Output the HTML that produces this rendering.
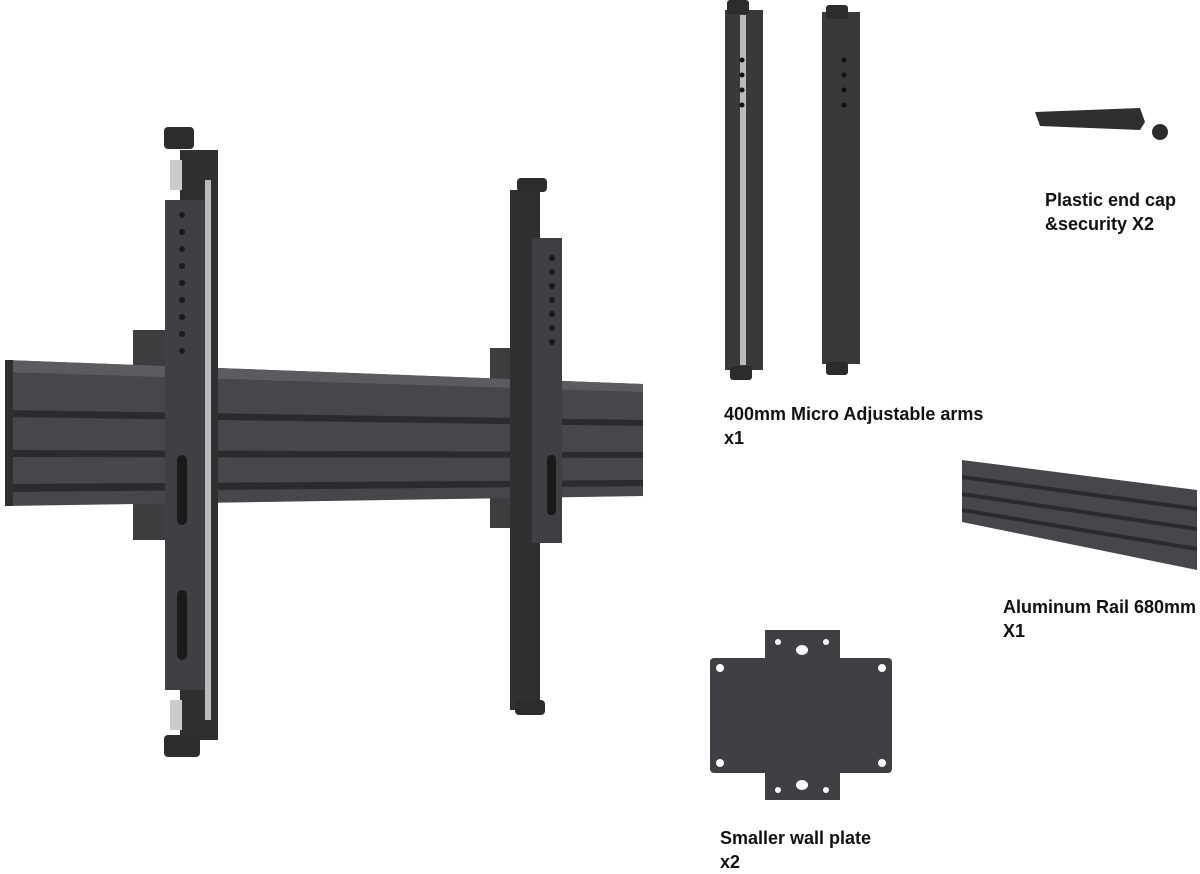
<!DOCTYPE html>
<html><head><meta charset="utf-8"><style>
html,body{margin:0;padding:0;background:#fff;}
body{width:1200px;height:870px;position:relative;overflow:hidden;font-family:"Liberation Sans",sans-serif;}
.t{position:absolute;font-weight:bold;font-size:18px;color:#111;line-height:24px;white-space:nowrap;}
</style></head><body>
<svg width="1200" height="870" style="position:absolute;left:0;top:0">
<!-- wall plates behind main assembly -->
<rect x="133" y="330" width="34" height="210" fill="#3c3d3f"/>
<rect x="490" y="348" width="26" height="180" fill="#3c3d3f"/>
<!-- main rail -->
<polygon points="5,360 643,384 643,496 5,506" fill="#45474a"/>
<polygon points="5,360 643,384 643,392 5,372" fill="#5a5c60"/>
<polygon points="5,410 643,420 643,426 5,417" fill="#2a2b2d"/>
<polygon points="5,450 643,452 643,458 5,457" fill="#2a2b2d"/>
<polygon points="5,484 643,480 643,486 5,492" fill="#2a2b2d"/>
<rect x="5" y="360" width="8" height="146" fill="#2e2f31"/>
<!-- left arm -->
<rect x="180" y="150" width="38" height="590" fill="#2f3032"/>
<rect x="165" y="200" width="42" height="490" fill="#3e4043"/>
<rect x="170" y="160" width="12" height="30" fill="#ccc"/>
<rect x="170" y="700" width="12" height="30" fill="#ccc"/>
<rect x="205" y="180" width="6" height="540" fill="#bbb"/>
<rect x="164" y="127" width="30" height="22" rx="4" fill="#2b2c2e"/>
<rect x="164" y="735" width="36" height="22" rx="4" fill="#2b2c2e"/>
<g fill="#1a1a1a"><circle cx="182" cy="215" r="3"/><circle cx="182" cy="232" r="3"/><circle cx="182" cy="249" r="3"/><circle cx="182" cy="266" r="3"/><circle cx="182" cy="283" r="3"/><circle cx="182" cy="300" r="3"/><circle cx="182" cy="317" r="3"/><circle cx="182" cy="334" r="3"/><circle cx="182" cy="351" r="3"/>
<rect x="177" y="455" width="10" height="70" rx="5"/><rect x="177" y="590" width="10" height="70" rx="5"/></g>
<!-- right arm -->
<rect x="510" y="190" width="30" height="520" fill="#2f3032"/>
<rect x="532" y="238" width="30" height="305" fill="#3e4043"/>
<rect x="517" y="178" width="30" height="14" rx="4" fill="#2b2c2e"/>
<rect x="515" y="700" width="30" height="15" rx="4" fill="#2b2c2e"/>
<g fill="#1a1a1a"><circle cx="552" cy="258" r="3"/><circle cx="552" cy="272" r="3"/><circle cx="552" cy="286" r="3"/><circle cx="552" cy="300" r="3"/><circle cx="552" cy="314" r="3"/><circle cx="552" cy="328" r="3"/><circle cx="552" cy="342" r="3"/>
<rect x="547" y="455" width="9" height="60" rx="4"/></g>
<!-- top arms -->
<rect x="725" y="10" width="38" height="360" fill="#38393b"/>
<rect x="740" y="15" width="6" height="350" fill="#bbb"/>
<rect x="727" y="0" width="22" height="14" rx="3" fill="#2b2c2e"/>
<rect x="730" y="366" width="22" height="14" rx="3" fill="#2b2c2e"/>
<rect x="822" y="12" width="38" height="352" fill="#38393b"/>
<rect x="826" y="5" width="22" height="14" rx="3" fill="#2b2c2e"/>
<rect x="826" y="362" width="22" height="13" rx="3" fill="#2b2c2e"/>
<g fill="#111"><circle cx="742" cy="60" r="2.5"/><circle cx="742" cy="75" r="2.5"/><circle cx="742" cy="90" r="2.5"/><circle cx="742" cy="105" r="2.5"/><circle cx="844" cy="60" r="2.5"/><circle cx="844" cy="75" r="2.5"/><circle cx="844" cy="90" r="2.5"/><circle cx="844" cy="105" r="2.5"/></g>
<!-- end cap -->
<polygon points="1035,112 1140,108 1145,122 1140,130 1040,126" fill="#2e2f31"/>
<circle cx="1160" cy="132" r="8" fill="#2b2c2e"/>
<!-- aluminum rail -->
<polygon points="962,460 1197,490 1197,570 962,522" fill="#45474a"/>
<polygon points="962,475 1197,507 1197,511 962,479" fill="#2a2b2d"/>
<polygon points="962,492 1197,527 1197,531 962,496" fill="#2a2b2d"/>
<polygon points="962,508 1197,547 1197,551 962,512" fill="#2a2b2d"/>
<!-- wall plate -->
<rect x="765" y="630" width="75" height="170" fill="#3f4043"/>
<rect x="710" y="658" width="182" height="115" rx="4" fill="#3f4043"/>
<g fill="#fff"><circle cx="720" cy="668" r="4"/><circle cx="882" cy="668" r="4"/><circle cx="720" cy="763" r="4"/><circle cx="882" cy="763" r="4"/><ellipse cx="802" cy="650" rx="6" ry="5"/><ellipse cx="802" cy="785" rx="6" ry="5"/><circle cx="778" cy="642" r="3"/><circle cx="826" cy="642" r="3"/><circle cx="778" cy="790" r="3"/><circle cx="826" cy="790" r="3"/></g>
</svg>
<div class="t" style="left:724px;top:402px">400mm Micro Adjustable arms<br>x1</div>
<div class="t" style="left:1045px;top:188px">Plastic end cap<br>&amp;security X2</div>
<div class="t" style="left:1003px;top:595px">Aluminum Rail 680mm<br>X1</div>
<div class="t" style="left:720px;top:826px">Smaller wall plate<br>x2</div>
</body></html>
